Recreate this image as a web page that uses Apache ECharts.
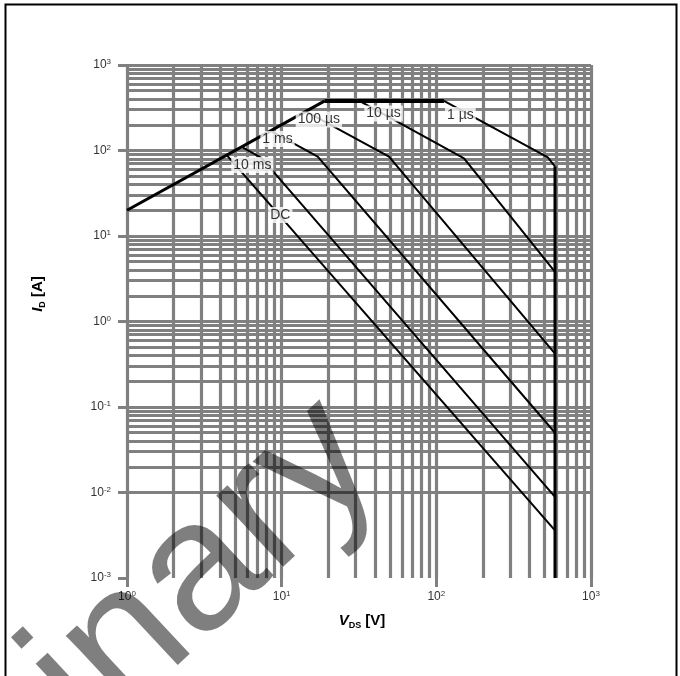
<!DOCTYPE html>
<html><head><meta charset="utf-8">
<script src="https://cdn.jsdelivr.net/npm/echarts@6/dist/echarts.min.js"></script>
<style>html,body{margin:0;padding:0;background:#fff}#c{width:680px;height:676px}</style>
</head><body><div id="c"></div>
<script>
// ---- data (V_DS [V], I_D [A]) ----
const xDecades = [1, 10, 100, 1000];
const yDecades = [0.001, 0.01, 0.1, 1, 10, 100, 1000];
const gridMultipliers = [1, 2, 3, 4, 5, 6, 7, 8, 9];
const rdsLimit = [[1, 20], [19, 380]];
const pulseLimit = [[19, 380], [112, 380]];
const vdsLimit = [[585, 65], [585, 0.001]];
const curve1us = [[112, 380], [526, 83], [585, 65]];
const curve10us = [[31.8, 380], [151, 81], [585, 3.8]];
const curve100us = [[14.3, 286], [49.4, 84.6], [585, 0.42]];
const curve1ms = [[8.5, 170], [17.1, 84.6], [585, 0.05]];
const curve10ms = [[5.5, 110], [7.4, 82], [585, 0.0089]];
const curveDC = [[4.4, 89], [585, 0.0036]];
const curveLabels = [[143, 260, '1 µs'], [45.6, 271, '10 µs'], [17.4, 231, '100 µs'], [9.4, 136, '1 ms'], [6.46, 67.6, '10 ms'], [9.8, 17.6, 'DC']];

function gridValues(decades) {
  const out = [];
  for (let i = 0; i < decades.length - 1; i++) gridMultipliers.forEach(m => out.push(m * decades[i]));
  out.push(decades[decades.length - 1]);
  return out;
}
const xGrid = gridValues(xDecades);
const yGrid = gridValues(yDecades);

const FONT = '"Liberation Sans", Arial, sans-serif';
const GRAY = '#808080';
const tickRich = {
  b: { fontSize: 12, color: '#333', fontFamily: FONT, lineHeight: 14 },
  s: { fontSize: 8, color: '#333', fontFamily: FONT, verticalAlign: 'top', lineHeight: 14 }
};
function tickFmt(v) { return '{b|10}{s|' + Math.round(Math.log10(v)) + '}'; }

function curve(name, data, width) {
  return { name, type: 'line', data, symbol: 'none', z: 3, animation: false, silent: true,
    lineStyle: { color: '#000', width: width || 2 } };
}

const chart = echarts.init(document.getElementById('c'), null, { renderer: 'canvas' });
chart.setOption({
  animation: false,
  backgroundColor: '#fff',
  grid: { left: 127, top: 65, width: 464, height: 513, containLabel: false },
  xAxis: { type: 'log', logBase: 10, min: 1, max: 1000, splitNumber: 3,
    axisLine: { show: false }, splitLine: { show: false },
    axisTick: { show: true, length: 9, lineStyle: { color: GRAY, width: 3 } },
    axisLabel: { margin: 12, formatter: tickFmt, rich: tickRich } },
  yAxis: { type: 'log', logBase: 10, min: 0.001, max: 1000, splitNumber: 6,
    axisLine: { show: false }, splitLine: { show: false },
    axisTick: { show: true, length: 9, lineStyle: { color: GRAY, width: 3 } },
    axisLabel: { margin: 16, formatter: tickFmt, rich: tickRich } },
  series: [
    { name: 'grid', type: 'line', data: [], z: 1, silent: true,
      markLine: { z: 1, silent: true, animation: false, symbol: ['none', 'none'], label: { show: false },
        emphasis: { disabled: true },
        lineStyle: { color: GRAY, width: 3.2, type: 'solid' },
        data: xGrid.map(v => ({ xAxis: v })).concat(yGrid.map(v => ({ yAxis: v }))) } },
    curve('RDS', rdsLimit, 3),
    curve('pulse', pulseLimit, 4),
    curve('VDS', vdsLimit, 3),
    curve('1 µs', curve1us, 2),
    curve('10 µs', curve10us, 2),
    curve('100 µs', curve100us, 2),
    curve('1 ms', curve1ms, 2),
    curve('10 ms', curve10ms, 2),
    curve('DC', curveDC, 2),
    { name: 'labels', type: 'scatter', z: 10, silent: true, symbol: 'rect', symbolSize: 1,
      itemStyle: { color: 'transparent' },
      data: curveLabels.map(d => ({ value: [d[0], d[1]], name: d[2] })),
      label: { show: true, position: 'inside', formatter: p => p.name, color: '#000',
        fontSize: 14, fontFamily: FONT, backgroundColor: '#fff', padding: [1, 2] } }
  ],
  graphic: [
    { type: 'text', x: 362, y: 621, z: 10, silent: true,
      style: { text: '{i|V}{s|DS}{n| [V]}', align: 'center', verticalAlign: 'middle',
        rich: { i: { fontSize: 15, fontWeight: 'bold', fontStyle: 'italic', fontFamily: FONT, fill: '#000', lineHeight: 18 },
                s: { fontSize: 9, fontWeight: 'bold', fontFamily: FONT, fill: '#000', verticalAlign: 'bottom', lineHeight: 18 },
                n: { fontSize: 15, fontWeight: 'bold', fontFamily: FONT, fill: '#000', lineHeight: 18 } } } },
    { type: 'text', x: 38, y: 294, rotation: Math.PI / 2, z: 10, silent: true,
      style: { text: '{i|I}{s|D}{n| [A]}', align: 'center', verticalAlign: 'middle',
        rich: { i: { fontSize: 15, fontWeight: 'bold', fontStyle: 'italic', fontFamily: FONT, fill: '#000', lineHeight: 18 },
                s: { fontSize: 9, fontWeight: 'bold', fontFamily: FONT, fill: '#000', verticalAlign: 'bottom', lineHeight: 18 },
                n: { fontSize: 15, fontWeight: 'bold', fontFamily: FONT, fill: '#000', lineHeight: 18 } } } },
    { type: 'text', x: -325, y: 1064, rotation: 43 * Math.PI / 180, z: 100, silent: true,
      style: { text: 'Preliminary', fontSize: 185, fontFamily: FONT, fill: 'rgba(0,0,0,0.5)',
        align: 'left', verticalAlign: 'middle' } },
    { type: 'rect', z: 100, silent: true, shape: { x: 5.5, y: 4.5, width: 671, height: 700 },
      style: { fill: 'none', stroke: '#000', lineWidth: 2 } }
  ]
});
</script></body></html>
